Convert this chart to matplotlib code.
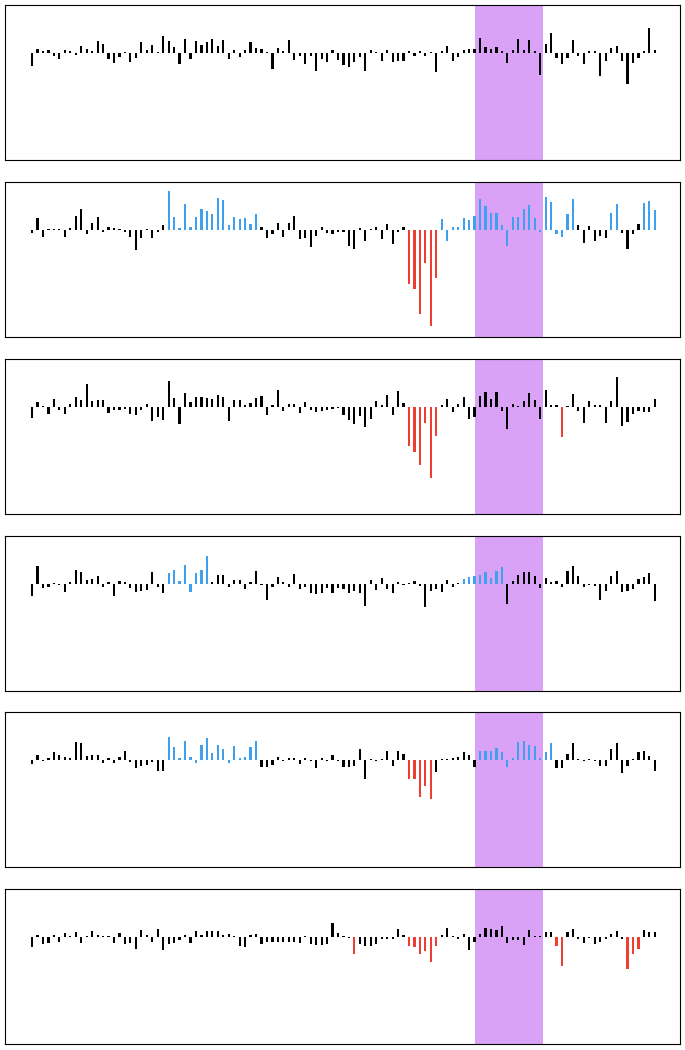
import matplotlib
matplotlib.use("Agg")
import matplotlib.pyplot as plt
import numpy as np

# bar values for the six panels (115 bars each)
panel1 = [-13, 4, 2, 3, -3, -6, 3, 2, -2, 7, 4, 2, 12, 9, -6, -10, -4, 1, -9, -5,
          11, 3, 8, 1, 17, 12, 6, -11, 14, -6, 12, 8, 11, 14, 7, 13, -6, 3, -4, 3,
          11, 5, 4, 1, -16, 5, 2, 13, -7, -3, -11, -3, -18, -6, -9, 3,
          -7, -12, -14, -9, -4, -18, 3, 1, -8, 3, -9, -8, -8, 2, -3, 2, -3, 1, -19, 2,
          7, -8, -4, 3, 4, 4, 15, 6, 4, 6, 2, -10, 3, 14, 3, 13, 2, -22, 9, 20,
          -5, -11, -5, 13, -3, -11, 2, 2, -23, -8, 5, 7, -8, -31, -10, -5, 2, 25, 3]

panel2 = [-3, 12, -7, 1, 1, 1, -7, 2, 14, 21, -4, 7, 13, -2, 3, 2, 1, -2, -7, -20,
          -8, 1, -8, -2, 5, 39, 13, 2, 26, 3, 13, 21, 19, 16, 32, 30, 5, 13, 11, 12,
          6, 16, 3, -8, -4, 7, -7, 7, 14, -9, -8, -17, -6, 3, -3, -4,
          -2, -2, -16, -19, 2, -11, 1, 3, -9, 6, -14, -2, 3,
          -54, -59, -84, -33, -96, -48,
          11, -11, 3, 3, 12, 10, 14, 31, 24, 17, 17, 5, -16, 13, 13, 21, 25, 12, -2, 33,
          28, -4, -7, 16, 31,
          5, -13, 4, -11, -6, -8, 17, 26, -3, -19, -4, 6, 27, 29, 20]

panel3 = [-11, 5, 1, -7, 8, -3, -7, 3, 10, 7, 23, 6, 7, 7, -6, -3, -3, -2, -7, -8,
          -3, 3, -14, -10, -13, 26, 9, -17, 14, 5, 10, 10, 9, 8, 12, 10, -14, 7, 7, 2,
          4, 9, 11, -8, 2, 17, -4, 3, 3, -6, 5, -3, -5, -4, -3, -2,
          -1, -8, -13, -17, -9, -20, -12, 6, 2, 12, -8, 16, 4,
          -39, -45, -58, -16, -71, -29,
          2, 8, -5, 3, 10, -12, -10, 11, 15, 8, 15, -4, -22, 3, 1, 6, 14, 7, -12, 17,
          2, 2, -30,
          1, 13, -4, -16, 6, 2, 2, -16, 6, 30, -19, -15, -7, -4, -5, -5, 8]

panel4 = [-12, 18, -4, -3, 1, -1, -8, 2, 14, 12, 4, 5, 8, -3, 2, -12, 3, 2, -4, -8,
          -7, -6, 12, -3, -9, 11, 14, 3, 19, -8, 11, 14, 28, 2, 9, 9, -3, 4, 4, -5,
          2, 13, -1, -16, -3, 7, 2, -3, 10, -5, -3, -9, -10, -9, -4, -9,
          -4, -5, -9, -7, -9, -22, 4, -6, 6, -5, -9, 2, -1, 1, 3, -2, -23, -7, -5, -8,
          4, -3, 1, 5, 7, 8, 9, 12, 6, 13, 17,
          -20, 3, 9, 12, 12, 8, -4, 6, 2, 3, -3, 13, 18, 8, -3, -1, -2, -16, -7, 8,
          13, -8, -7, -5, 5, 7, 11, -17]

panel5 = [-4, 5, -1, 2, 8, 5, 3, 2, 18, 17, 4, 5, 5, -3, 2, -3, 3, 9, -2, -8,
          -6, -5, -2, -11, -11, 23, 13, 2, 19, 3, -3, 15, 22, 7, 15, 11, -3, 14, 2, 3,
          13, 19, -7, -7, -5, 3, -1, 2, 2, -4, 2, -1, -8, 2, -1, 5,
          -1, -7, -7, -6, 11, -19, 1, -1, 1, 9, -6, 9, 6,
          -19, -19, -37, -26, -39,
          -12, 1, 1, 2, 3, 8, 5, -7,
          9, 9, 9, 12, 8, -7, 2, 18, 19, 15, 14, 2, 8, 17,
          -8, -8, 6, 17, 1, -1, 1, -1, -6, -6, 11, 17, -13, -6, 1, 8, 9, 4, -11]

panel6 = [-10, 2, -7, -6, 2, -5, 4, 1, 5, -6, 1, 6, 2, 1, 1, -6, 4, -7, -6, -12,
          7, 2, -5, 8, -13, -7, -6, -3, 2, -6, 6, 2, 6, 6, 6, 2, 3, 1, -9, -10,
          2, 3, -7, -5, -5, -5, -5, -5, -5, -6, 1, -7, -8, -8, -7, 14, 4,
          1, -1, -17, -7, -9, -9, -7, -2, -2, -2, 8, 2,
          -9, -10, -17, -14, -25, -9,
          2, 9, 1, -2, 3, -13, -5, 3, 9, 8, 7, 11, -6, -3, -3, -8, 7, 1, 1, 5, 5,
          -9, -29,
          5, 8, -2, -6, -1, -7, -5, -2, 3, 6, -2,
          -32, -17, -12, 7, 5, 5]

panels = [panel1, panel2, panel3, panel4, panel5, panel6]

# runs of highlighted bars (first index, last index)
blue_runs = [[], [(25, 41), (75, 99), (106, 107), (112, 114)], [],
             [(25, 32), (79, 86)], [(25, 41), (82, 95)], []]
red_runs = [[], [(69, 74)], [(69, 74), (97, 97)], [], [(69, 73)],
            [(59, 59), (69, 74), (96, 97), (109, 111)]]

# shaded window
window = (81.0, 93.5)

BLUE = "#3fa0ef"
RED = "#ef3d32"
PURPLE = "#d9a2f6"

fig = plt.figure(figsize=(6.85, 10.5), dpi=100)
tops = [5, 182, 359, 536, 712, 889]

for k, vals in enumerate(panels):
    ax = fig.add_axes([5 / 685, 1 - (tops[k] + 155) / 1050, 675 / 685, 155 / 1050])
    x = np.arange(len(vals))
    colors = ["black"] * len(vals)
    for a, b in blue_runs[k]:
        for i in range(a, b + 1):
            colors[i] = BLUE
    for a, b in red_runs[k]:
        for i in range(a, b + 1):
            colors[i] = RED
    ax.axvspan(window[0], window[1], color=PURPLE, lw=0, zorder=1)
    ax.bar(x, vals, width=0.4, color=colors, zorder=2)
    ax.set_xlim(-4.95, 118.6)
    ax.set_ylim(-107, 48)
    ax.set_xticks([])
    ax.set_yticks([])
    for s in ax.spines.values():
        s.set_linewidth(0.8)
        s.set_color("black")

fig.savefig("out.png", dpi=100)
